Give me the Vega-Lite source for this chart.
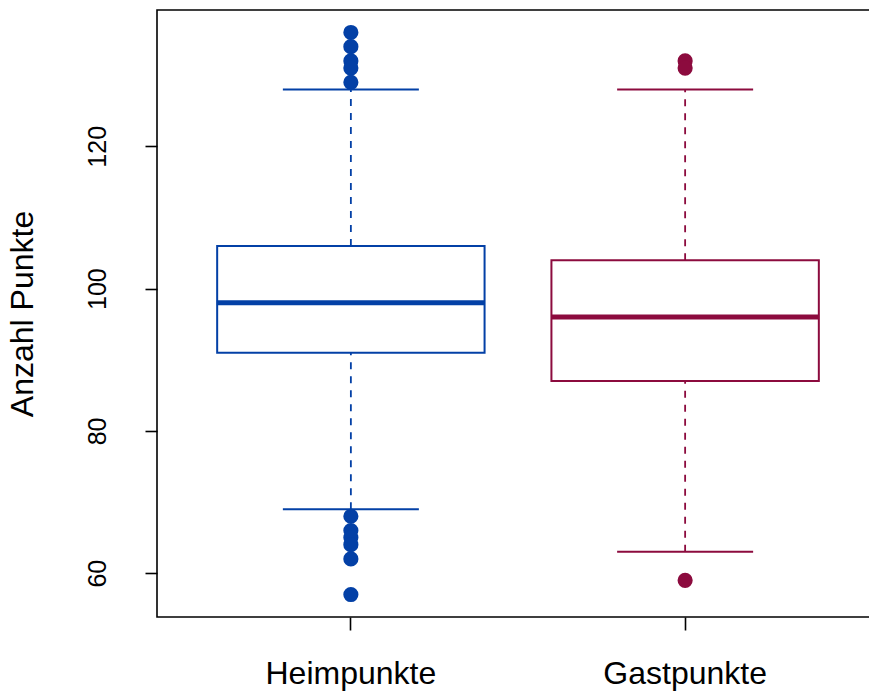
{
  "$schema": "https://vega.github.io/schema/vega-lite/v6.json",
  "width": 722,
  "height": 607,
  "autosize": {"type": "none"},
  "padding": {"left": 157, "top": 10, "right": 0, "bottom": 78},
  "background": "white",
  "config": {
    "font": "Liberation Sans",
    "view": {"stroke": "black", "strokeWidth": 1.6},
    "axis": {"grid": false}
  },
  "datasets": {
    "boxes": [
      {"Gruppe": "Heimpunkte", "lower": 69, "q1": 91, "median": 98, "q3": 106, "upper": 128},
      {"Gruppe": "Gastpunkte", "lower": 63, "q1": 87, "median": 96, "q3": 104, "upper": 128}
    ],
    "outliers": [
      {"Gruppe": "Heimpunkte", "value": 136},
      {"Gruppe": "Heimpunkte", "value": 134},
      {"Gruppe": "Heimpunkte", "value": 132},
      {"Gruppe": "Heimpunkte", "value": 131},
      {"Gruppe": "Heimpunkte", "value": 129},
      {"Gruppe": "Heimpunkte", "value": 68},
      {"Gruppe": "Heimpunkte", "value": 66},
      {"Gruppe": "Heimpunkte", "value": 65},
      {"Gruppe": "Heimpunkte", "value": 64},
      {"Gruppe": "Heimpunkte", "value": 62},
      {"Gruppe": "Heimpunkte", "value": 57},
      {"Gruppe": "Gastpunkte", "value": 132},
      {"Gruppe": "Gastpunkte", "value": 131},
      {"Gruppe": "Gastpunkte", "value": 59}
    ]
  },
  "encoding": {
    "x": {
      "field": "Gruppe",
      "type": "nominal",
      "sort": ["Heimpunkte", "Gastpunkte"],
      "scale": {"paddingInner": 0.2, "paddingOuter": 0.18},
      "axis": {
        "title": null,
        "labelAngle": 0,
        "labelFontSize": 32,
        "labelColor": "black",
        "labelPadding": 28,
        "tickSize": 13,
        "tickWidth": 1.6,
        "tickColor": "black",
        "domain": false
      }
    },
    "color": {
      "field": "Gruppe",
      "type": "nominal",
      "scale": {"domain": ["Heimpunkte", "Gastpunkte"], "range": ["#0340A6", "#8C0B3E"]},
      "legend": null
    }
  },
  "layer": [
    {
      "data": {"name": "boxes"},
      "mark": {"type": "rule", "strokeWidth": 1.8, "strokeDash": [7, 7]},
      "encoding": {
        "y": {
          "field": "lower",
          "type": "quantitative",
          "scale": {"domain": [53.84, 139.16], "nice": false, "zero": false},
          "axis": {
            "title": "Anzahl Punkte",
            "titleFontSize": 32,
            "titleFontWeight": "normal",
            "titleColor": "black",
            "titlePadding": 46,
            "values": [60, 80, 100, 120],
            "labelAngle": 270,
            "labelAlign": "center",
            "labelBaseline": "bottom",
            "labelFontSize": 25,
            "labelColor": "black",
            "labelPadding": 35,
            "tickSize": 12,
            "tickWidth": 1.6,
            "tickColor": "black",
            "domain": false
          }
        },
        "y2": {"field": "q1"}
      }
    },
    {
      "data": {"name": "boxes"},
      "mark": {"type": "rule", "strokeWidth": 1.8, "strokeDash": [7, 7]},
      "encoding": {
        "y": {"field": "q3", "type": "quantitative"},
        "y2": {"field": "upper"}
      }
    },
    {
      "data": {"name": "boxes"},
      "mark": {"type": "bar", "fill": "white", "strokeWidth": 2, "width": {"band": 1}},
      "encoding": {
        "y": {"field": "q1", "type": "quantitative"},
        "y2": {"field": "q3"},
        "stroke": {"field": "Gruppe", "type": "nominal", "scale": {"domain": ["Heimpunkte", "Gastpunkte"], "range": ["#0340A6", "#8C0B3E"]}, "legend": null}
      }
    },
    {
      "data": {"name": "boxes"},
      "mark": {"type": "tick", "orient": "horizontal", "thickness": 5, "size": 268, "opacity": 1},
      "encoding": {"y": {"field": "median", "type": "quantitative"}}
    },
    {
      "data": {"name": "boxes"},
      "mark": {"type": "tick", "orient": "horizontal", "thickness": 2, "size": 136, "opacity": 1},
      "encoding": {"y": {"field": "lower", "type": "quantitative"}}
    },
    {
      "data": {"name": "boxes"},
      "mark": {"type": "tick", "orient": "horizontal", "thickness": 2, "size": 136, "opacity": 1},
      "encoding": {"y": {"field": "upper", "type": "quantitative"}}
    },
    {
      "data": {"name": "outliers"},
      "mark": {"type": "point", "filled": true, "size": 230, "opacity": 1},
      "encoding": {"y": {"field": "value", "type": "quantitative"}}
    }
  ]
}
